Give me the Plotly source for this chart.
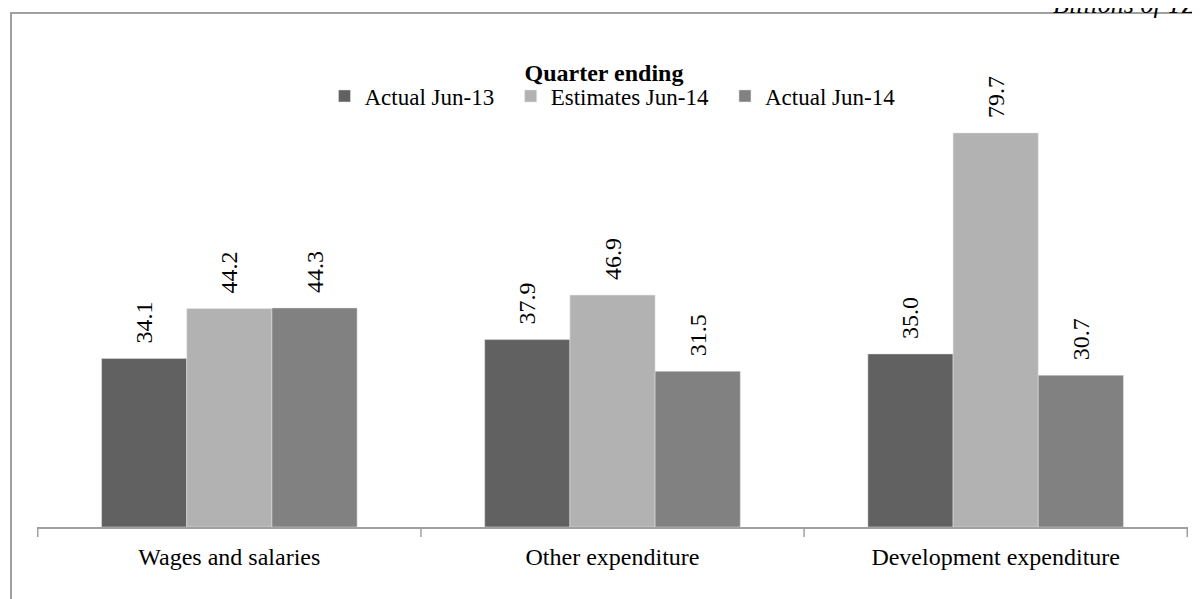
import plotly.graph_objects as go

categories = ["Wages and salaries", "Other expenditure", "Development expenditure"]
series_names = ["Actual Jun-13", "Estimates Jun-14", "Actual Jun-14"]
actual_jun13 = [34.1, 37.9, 35.0]
estimates_jun14 = [44.2, 46.9, 79.7]
actual_jun14 = [44.3, 31.5, 30.7]

colors = ["#616161", "#b2b2b2", "#818181"]
FONT = "Liberation Serif, Times New Roman, serif"

# the page puts the figure 8px in from the top-left corner
OFF = 8
W, H = 1200 - OFF, 599 - OFF
L, R, T, B = 37 - OFF, 12, 82 - OFF, 72
pw, ph = W - L - R, H - T - B


def px_x(x):
    # page pixel -> paper coordinate
    return (x - OFF - L) / pw


def px_y(y):
    return 1 - (y - OFF - T) / ph


fig = go.Figure()
series = [actual_jun13, estimates_jun14, actual_jun14]
for i, (name, vals, col) in enumerate(zip(series_names, series, colors)):
    # a little extra room between legend entries, like the original
    label = name + ("\u00a0\u00a0" if i < len(series) - 1 else "")
    fig.add_trace(go.Bar(
        x=categories,
        y=vals,
        name=label,
        marker=dict(color=col, line=dict(color="#e6e6e6", width=0.5)),
        text=["\u00a0\u00a0" + f"{v:.1f}" for v in vals],
        textposition="outside",
        textangle=-90,
        textfont=dict(family=FONT, size=24, color="#000000"),
        cliponaxis=False,
    ))

# outer frame of the original chart
fig.add_shape(type="rect", xref="paper", yref="paper",
              x0=px_x(11), x1=px_x(1215), y0=px_y(13), y1=px_y(615),
              line=dict(color="#a0a0a0", width=2), fillcolor="rgba(0,0,0,0)")

fig.add_annotation(text="<i>Billions of TZS</i>", xref="paper", yref="paper",
                   x=px_x(1051), y=px_y(21), xanchor="left", yanchor="bottom",
                   showarrow=False,
                   font=dict(family=FONT, size=26, color="#000000"))

fig.update_layout(
    width=W, height=H,
    barmode="group",
    bargap=0.333,
    bargroupgap=0,
    title=dict(text="<b>Quarter ending</b>", x=px_x(612.5), xanchor="center",
               y=1 - (73 - OFF) / H, yanchor="middle",
               font=dict(family=FONT, size=24, color="#000000")),
    legend=dict(orientation="h", x=0.5, xanchor="center", y=px_y(96), yanchor="middle",
                font=dict(family=FONT, size=23, color="#000000"),
                traceorder="normal", itemwidth=30, bgcolor="rgba(0,0,0,0)"),
    xaxis=dict(showline=True, linecolor="#a0a0a0", linewidth=1.5,
               ticks="outside", ticklen=0, showgrid=False, ticklabelstandoff=7,
               tickfont=dict(family=FONT, size=24, color="#000000")),
    yaxis=dict(range=[0, 90], visible=False, showgrid=False),
    margin=dict(l=L, r=R, t=T, b=B),
    paper_bgcolor="#ffffff",
    plot_bgcolor="#ffffff",
    font=dict(family=FONT),
)

# category divider ticks on the axis
for i in range(len(categories) + 1):
    fig.add_shape(type="line", xref="x", yref="paper",
                  x0=i - 0.5, x1=i - 0.5, y0=0, y1=-10 / ph,
                  line=dict(color="#a0a0a0", width=1.5))

fig.write_html("out.html")
